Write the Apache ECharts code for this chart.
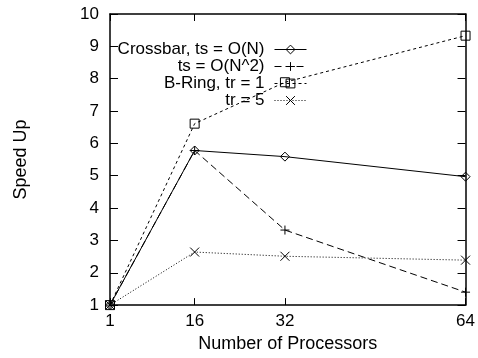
<!DOCTYPE html>
<html>
<head>
<meta charset="utf-8">
<script src="https://cdn.jsdelivr.net/npm/echarts@6/dist/echarts.min.js"></script>
<style>
  html, body { margin: 0; padding: 0; background: #fff; }
  #main { width: 478px; height: 358px; }
</style>
</head>
<body>
<div id="main"></div>
<script>
// values
var procs = [1, 16, 32, 64]
var xTicks = [1, 16, 32, 64]
var crossbarN = [1, 5.78, 5.59, 4.97]
var crossbarN2 = [1, 5.78, 3.32, 1.40]
var bring1 = [1, 6.61, 7.89, 9.33]
var bring5 = [1, 2.64, 2.51, 2.39]
var names = ['Crossbar, ts = O(N)', 'ts = O(N^2)', 'B-Ring, tr = 1', 'tr = 5']

var font = 'Liberation Sans'
var black = '#000'

function pairs (ys) {
  return procs.map(function (p, i) { return [p, ys[i]] })
}

// hollow gnuplot-like marks: transparent fill, thin black outline
function makeSeries (name, ys, symbol, dash) {
  return {
    name: name,
    type: 'line',
    data: pairs(ys),
    symbol: symbol,
    symbolSize: 9,
    showAllSymbol: true,
    clip: false,
    lineStyle: { color: black, width: 1, type: dash },
    itemStyle: { color: 'rgba(0,0,0,0)', borderColor: black, borderWidth: 1 },
    emphasis: { disabled: true }
  }
}

var chart = echarts.init(document.getElementById('main'))
var options = {
  animation: false,
  backgroundColor: '#fff',
  textStyle: { fontFamily: font, color: black },
  grid: { left: 110, right: 5, top: 14, bottom: 48 },
  legend: {
    orient: 'vertical',
    right: 171,
    top: 41,
    align: 'right',
    itemWidth: 32,
    itemHeight: 11,
    itemGap: 0,
    padding: 0,
    selectedMode: false,
    lineStyle: { width: 1 },
    itemStyle: { borderWidth: 1 },
    textStyle: { fontFamily: font, fontSize: 17, lineHeight: 17, color: black, padding: [0, 5, 0, 0] },
    data: names
  },
  xAxis: [
    {
      type: 'value',
      min: 1,
      max: 64,
      name: 'Number of Processors',
      nameLocation: 'middle',
      nameGap: 28,
      nameTextStyle: { fontFamily: font, fontSize: 18, color: black },
      axisLine: { lineStyle: { color: black, width: 1.5 } },
      axisTick: { inside: true, length: 7, customValues: xTicks, lineStyle: { color: black } },
      axisLabel: {
        customValues: xTicks,
        margin: 8,
        fontSize: 17,
        color: black,
        fontFamily: font,
        alignMinLabel: 'center',
        alignMaxLabel: 'center'
      },
      splitLine: { show: false }
    },
    {
      type: 'value',
      position: 'top',
      min: 1,
      max: 64,
      axisLine: { lineStyle: { color: black, width: 1.5 } },
      axisTick: { inside: true, length: 7, customValues: xTicks, lineStyle: { color: black } },
      axisLabel: { show: false },
      splitLine: { show: false }
    }
  ],
  yAxis: [
    {
      type: 'value',
      min: 1,
      max: 10,
      interval: 1,
      name: 'Speed Up',
      nameLocation: 'middle',
      nameGap: 80,
      nameTextStyle: { fontFamily: font, fontSize: 18, color: black },
      axisLine: { show: true, lineStyle: { color: black, width: 1.5 } },
      axisTick: { show: true, inside: true, length: 8, lineStyle: { color: black } },
      axisLabel: { margin: 11, fontSize: 17, color: black, fontFamily: font },
      splitLine: { show: false }
    },
    {
      type: 'value',
      position: 'right',
      min: 1,
      max: 10,
      interval: 1,
      axisLine: { show: true, lineStyle: { color: black, width: 1.5 } },
      axisTick: { show: true, inside: true, length: 8, lineStyle: { color: black } },
      axisLabel: { show: false },
      splitLine: { show: false }
    }
  ],
  series: [
    makeSeries(names[0], crossbarN, 'diamond', 'solid'),
    makeSeries(names[1], crossbarN2, 'path://M0,5L10,5M5,0L5,10', [7, 4]),
    makeSeries(names[2], bring1, 'rect', [3, 3]),
    makeSeries(names[3], bring5, 'path://M0,0L10,10M0,10L10,0', [1, 2])
  ]
}
chart.setOption(options)
</script>
</body>
</html>
